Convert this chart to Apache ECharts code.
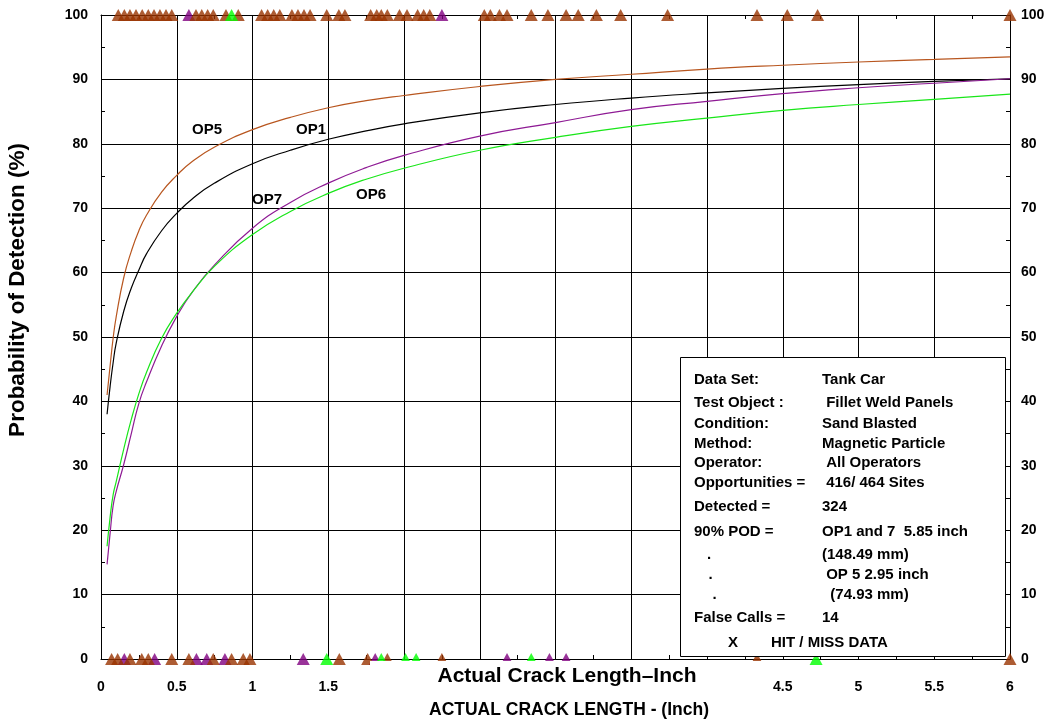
<!DOCTYPE html>
<html><head><meta charset="utf-8">
<script src="https://cdn.jsdelivr.net/npm/echarts@6/dist/echarts.min.js"></script>
<style>html,body{margin:0;padding:0;background:#fff}#c{width:1055px;height:723px}</style>
</head><body><div id="c"></div>
<script>
// ---------- data ----------
const curveX = [0.04,0.06,0.08,0.1,0.15,0.2,0.25,0.3,0.4,0.5,0.6,0.75,1,1.25,1.5,1.75,2,2.5,3,3.5,4,4.5,5,5.5,6];
const op5Pod = [41,45.5,49.8,53.1,59.2,63.3,66.5,68.9,72.5,75.1,77.2,79.5,82.2,84.1,85.6,86.7,87.5,88.9,90.0,90.8,91.6,92.2,92.7,93.1,93.5];
const op1Pod = [38,42.3,46,49,54,57.6,60.4,62.9,66.5,69.2,71.4,73.9,76.9,79,80.7,82,83.1,84.8,86.1,87.1,87.9,88.6,89.2,89.7,90.1];
const op7Pod = [14.7,19.5,23.8,26,30.2,35,39.7,43,48.6,53.2,56.9,61.2,66.9,70.9,73.9,76.3,78.2,81.2,83.3,85.3,86.6,87.8,88.7,89.4,90.1];
const op6Pod = [17.5,22,25.5,27.5,32.6,37.2,41.2,44.5,49.8,53.7,56.9,61,65.9,69.5,72.3,74.5,76.2,79,81,82.7,84,85.2,86.1,86.9,87.7];

const op5Hits = [0.114,0.154,0.191,0.231,0.272,0.312,0.350,0.389,0.429,0.467,0.627,0.665,0.704,0.741,0.825,0.906,1.06,1.10,1.14,1.18,1.26,1.30,1.34,1.38,1.49,1.57,1.61,1.78,1.82,1.85,1.89,1.97,2.02,2.09,2.13,2.17,2.53,2.57,2.63,2.68,2.84,2.95,3.07,3.15,3.27,3.43,3.74,4.33,4.53,4.73,6.0];
const op5Misses = [0.07,0.11,0.191,0.269,0.312,0.467,0.58,0.741,0.862,0.939,0.983,1.573,1.76,1.89,2.25,4.33,6.0];
const op7Hits = [0.58,2.25];
const op7Misses = [0.154,0.354,0.63,0.698,0.818,1.335,1.81,2.68,2.96,3.07];
const op6Hits = [0.862];
const op6Misses = [1.49,1.85,2.01,2.08,2.84,4.72];

const xTickLabels = ['0','0.5','1','1.5','2','2.5','3','3.5','4','4.5','5','5.5','6'];
const yTickLabels = ['0','10','20','30','40','50','60','70','80','90','100'];

const curveNames = ['OP5','OP1','OP7','OP6'];
const curveLabelAt = [[0.70,82.2],[1.386,82.2],[1.096,71.3],[1.782,72.1]];

const infoLabels = ['Data Set:','Test Object :','Condition:','Method:','Operator:','Opportunities =','Detected =','90% POD =','.','.','.','False Calls ='];
const infoValues = ['Tank Car',' Fillet Weld Panels','Sand Blasted','Magnetic Particle',' All Operators',' 416/ 464 Sites','324','OP1 and 7  5.85 inch','(148.49 mm)',' OP 5 2.95 inch','  (74.93 mm)','14'];
const infoFooter = ['X','HIT / MISS DATA'];

// ---------- layout ----------
const FONT = '"Liberation Sans", Arial, sans-serif';
const rowY = [380,402.7,424,444,462.7,483.3,506.7,531.7,555,575,595,618.3];
const labelX = [694,694,694,694,694,694,694,694,707,708.5,712.5,694];

const pairs = (xs, ys) => xs.map((x, i) => [x, ys[i]]);
const at = (xs, y) => xs.map(x => [x, y]);

const tri = (name, data, color) => ({
  name, type: 'scatter', data, symbol: 'triangle', symbolSize: [13, 12],
  itemStyle: { color }, clip: false, silent: true, z: 3
});
const curve = (name, ys, color) => ({
  name, type: 'line', data: pairs(curveX, ys), showSymbol: false, smooth: 0.5,
  lineStyle: { color, width: 1.2 }, z: 2, silent: true
});

const chart = echarts.init(document.getElementById('c'), null, { renderer: 'canvas' });

const axisX = (pos, showLabel) => ({
  type: 'value', position: pos, min: 0, max: 6, interval: 0.5,
  axisLine: { show: true, onZero: false, lineStyle: { color: '#000', width: 1 } },
  axisTick: { show: true, inside: true, length: 4, lineStyle: { color: '#000' } },
  minorTick: { show: true, splitNumber: 2, length: 4, lineStyle: { color: '#000' } },
  splitLine: { show: pos === 'bottom', lineStyle: { color: '#000', width: 1 } },
  axisLabel: { show: showLabel, margin: 21, color: '#000', fontFamily: FONT, fontWeight: 'bold', fontSize: 14,
    showMinLabel: true, showMaxLabel: true,
    formatter: v => xTickLabels[Math.round(v / 0.5)] }
});
const axisY = (pos) => ({
  type: 'value', position: pos, min: 0, max: 100, interval: 10,
  axisLine: { show: true, onZero: false, lineStyle: { color: '#000', width: 1 } },
  axisTick: { show: true, inside: true, length: 4, lineStyle: { color: '#000' } },
  minorTick: { show: true, splitNumber: 2, length: 4, lineStyle: { color: '#000' } },
  splitLine: { show: pos === 'left', lineStyle: { color: '#000', width: 1 } },
  axisLabel: { show: true, inside: false, margin: pos === 'left' ? 13 : 11, color: '#000', fontFamily: FONT, fontWeight: 'bold', fontSize: 14,
    showMinLabel: true, showMaxLabel: true,
    formatter: v => yTickLabels[Math.round(v / 10)] }
});

const graphic = [];
graphic.push({ type: 'rect', shape: { x: 370, y: 661, width: 395, height: 31 }, style: { fill: '#fff' }, z: 100 });
graphic.push({ type: 'text', x: 567, y: 676, z: 101, style: { text: 'Actual Crack Length\u2013Inch', font: 'bold 21px ' + FONT, fill: '#000', align: 'center', verticalAlign: 'middle' } });
graphic.push({ type: 'text', x: 569, y: 710, z: 101, style: { text: 'ACTUAL CRACK LENGTH - (Inch)', font: 'bold 17.5px ' + FONT, fill: '#000', align: 'center', verticalAlign: 'middle' } });
graphic.push({ type: 'text', x: 18, y: 290, rotation: Math.PI / 2, z: 101, style: { text: 'Probability of Detection (%)', font: 'bold 22.5px ' + FONT, fill: '#000', align: 'center', verticalAlign: 'middle' } });
graphic.push({ type: 'rect', shape: { x: 680.5, y: 357.5, width: 325, height: 299 }, style: { fill: '#fff', stroke: '#000', lineWidth: 1 }, z: 100 });
infoLabels.forEach((t, i) => {
  graphic.push({ type: 'text', x: labelX[i], y: rowY[i], z: 101, style: { text: t, font: 'bold 15px ' + FONT, fill: '#000', align: 'left', verticalAlign: 'middle' } });
  graphic.push({ type: 'text', x: 822, y: rowY[i], z: 101, style: { text: infoValues[i], font: 'bold 15px ' + FONT, fill: '#000', align: 'left', verticalAlign: 'middle' } });
});
graphic.push({ type: 'text', x: 733, y: 643.3, z: 101, style: { text: infoFooter[0], font: 'bold 15px ' + FONT, fill: '#000', align: 'center', verticalAlign: 'middle' } });
graphic.push({ type: 'text', x: 771, y: 643.3, z: 101, style: { text: infoFooter[1], font: 'bold 15px ' + FONT, fill: '#000', align: 'left', verticalAlign: 'middle' } });

chart.setOption({
  animation: false,
  backgroundColor: '#fff',
  grid: { left: 101, right: 45, top: 15, bottom: 64, containLabel: false },
  xAxis: [axisX('bottom', true), axisX('top', false)],
  yAxis: [axisY('left'), axisY('right')],
  graphic,
  series: [
    curve('OP5', op5Pod, '#B8561F'),
    curve('OP1', op1Pod, '#000000'),
    curve('OP7', op7Pod, '#8E1A94'),
    curve('OP6', op6Pod, '#19E619'),
    tri('OP7 hit', at(op7Hits, 100), '#800080'),
    tri('OP7 miss', at(op7Misses, 0), '#800080'),
    tri('OP5 hit', at(op5Hits, 100), '#993300'),
    tri('OP5 miss', at(op5Misses, 0), '#993300'),
    tri('OP6 hit', at(op6Hits, 100), '#00FF00'),
    tri('OP6 miss', at(op6Misses, 0), '#00FF00')
  ]
});

// curve name annotations, placed through the chart's own scales
const labelGraphics = curveNames.map((n, i) => {
  const p = chart.convertToPixel({ gridIndex: 0 }, curveLabelAt[i]);
  return { type: 'text', x: p[0], y: p[1], z: 101, style: { text: n, font: 'bold 15px ' + FONT, fill: '#000', align: 'center', verticalAlign: 'middle' } };
});
chart.setOption({ graphic: graphic.concat(labelGraphics) });
</script></body></html>
